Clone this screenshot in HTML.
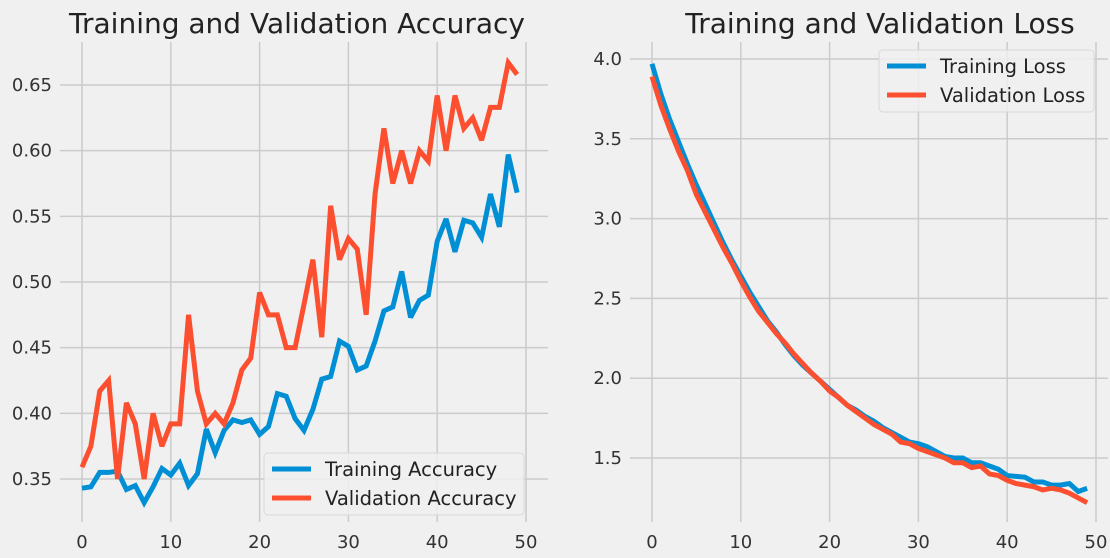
<!DOCTYPE html>
<html><head><meta charset="utf-8"><style>
html,body{margin:0;padding:0;background:#f0f0f0;}
svg{display:block;font-family:"DejaVu Sans","Liberation Sans",sans-serif;}
</style></head><body>
<svg id="c" width="1110" height="558" viewBox="0 0 1110 558" xmlns="http://www.w3.org/2000/svg">
<rect width="1110" height="558" fill="#f0f0f0"/>
</svg>
<script>
const epochs = Array.from({length:50},(_,i)=>i);
const trainAcc = [0.343,0.344,0.355,0.355,0.356,0.342,0.345,0.332,0.344,0.358,0.353,0.362,0.345,0.354,0.388,0.370,0.387,0.395,0.393,0.395,0.384,0.390,0.415,0.413,0.396,0.387,0.403,0.426,0.428,0.455,0.451,0.433,0.436,0.455,0.478,0.481,0.508,0.473,0.486,0.490,0.531,0.548,0.523,0.547,0.545,0.534,0.567,0.542,0.597,0.568];
const valAcc = [0.359,0.375,0.417,0.425,0.350,0.408,0.392,0.350,0.400,0.375,0.392,0.392,0.475,0.417,0.392,0.400,0.392,0.408,0.433,0.442,0.492,0.475,0.475,0.450,0.450,0.483,0.517,0.458,0.558,0.517,0.533,0.525,0.475,0.567,0.617,0.575,0.600,0.575,0.600,0.592,0.642,0.600,0.642,0.617,0.625,0.608,0.633,0.633,0.667,0.658];
const trainLoss = [3.97,3.78,3.62,3.48,3.34,3.21,3.09,2.97,2.85,2.74,2.64,2.54,2.45,2.36,2.29,2.21,2.14,2.08,2.03,1.98,1.93,1.88,1.83,1.80,1.76,1.73,1.69,1.66,1.63,1.60,1.59,1.57,1.54,1.51,1.50,1.50,1.47,1.47,1.45,1.43,1.39,1.385,1.38,1.35,1.35,1.33,1.33,1.34,1.29,1.31];
const valLoss = [3.89,3.71,3.56,3.42,3.30,3.15,3.04,2.93,2.82,2.72,2.61,2.51,2.42,2.35,2.28,2.22,2.15,2.09,2.03,1.98,1.92,1.88,1.83,1.79,1.75,1.71,1.68,1.65,1.60,1.59,1.56,1.54,1.52,1.50,1.47,1.47,1.44,1.45,1.40,1.39,1.36,1.34,1.33,1.32,1.30,1.31,1.30,1.28,1.25,1.22];
const xTicks = [0,10,20,30,40,50];
const accTicks = [0.35,0.40,0.45,0.50,0.55,0.60,0.65];
const lossTicks = [1.5,2.0,2.5,3.0,3.5,4.0];

const NS="http://www.w3.org/2000/svg";
const svg=document.getElementById('c');
function mk(tag,attrs,parent){const e=document.createElementNS(NS,tag);for(const k in attrs)e.setAttribute(k,attrs[k]);(parent||svg).appendChild(e);return e;}

function panel(cfg){
  const g=mk('g',{});
  
  
  const X=v=>cfg.x0+(v-0)*(cfg.x1-cfg.x0)/50;
  const Y=v=>cfg.yA+(v-cfg.vA)*(cfg.yB-cfg.yA)/(cfg.vB-cfg.vA);
  xTicks.forEach(t=>{
    const l=mk('line',{x1:X(t),x2:X(t),y1:cfg.top,y2:cfg.bottom,stroke:'#cbcbcb','stroke-width':1.5},g);
    
    
    const tx=mk('text',{x:X(t),y:cfg.bottom+26,'text-anchor':'middle','font-size':18,fill:'#333'},g);
    
    
    tx.textContent=t;
  });
  cfg.yTicks.forEach(t=>{
    const l=mk('line',{x1:cfg.left,x2:cfg.right,y1:Y(t),y2:Y(t),stroke:'#cbcbcb','stroke-width':1.5},g);
    
    
    const tx=mk('text',{x:cfg.left-8,y:Y(t)+6,'text-anchor':'end','font-size':18,fill:'#333'},g);
    
    
    tx.textContent=cfg.fmt(t);
  });
  cfg.series.forEach(s=>{
    const p=mk('polyline',{points:s.data.map((v,i)=>X(epochs[i])+','+Y(v)).join(' '),fill:'none',stroke:s.color,'stroke-width':5,'stroke-linejoin':'miter','stroke-miterlimit':3},g);
    
    
  });
  const ti=mk('text',{x:cfg.titleX,y:33,'text-anchor':'middle','font-size':28,fill:'#222'},g);
  
  
  ti.textContent=cfg.title;
  const lg=mk('g',{},g);
  
  
  const L=cfg.legend;
  mk('rect',{x:L.x,y:L.y,width:L.w,height:62,rx:4,fill:'#f0f0f0','fill-opacity':0.85,stroke:'#d8d8d8'},lg);
  cfg.series.forEach((s,i)=>{
    const yy=L.y+16+i*29;
    const ln=mk('line',{x1:L.x+8,x2:L.x+47,y1:yy,y2:yy,stroke:s.color,'stroke-width':5},lg);
    
    
    const tx=mk('text',{x:L.x+61,y:yy+7,'font-size':19.5,fill:'#222'},lg);
    
    
    tx.textContent=s.label;
  });
}
panel({name:'accuracy-chart',title:'Training and Validation Accuracy',titleX:297,x0:82,x1:526,left:60,right:548,top:42,bottom:522,
  vA:0.35,yA:479,vB:0.65,yB:85,yTicks:accTicks,fmt:t=>t.toFixed(2),
  legend:{x:264,y:453,w:260},
  series:[{id:'training-accuracy-line',label:'Training Accuracy',color:'#008fd5',data:trainAcc},
          {id:'validation-accuracy-line',label:'Validation Accuracy',color:'#fc4f30',data:valAcc}]});
panel({name:'loss-chart',title:'Training and Validation Loss',titleX:880,x0:652,x1:1096,left:630,right:1108,top:42,bottom:522,
  vA:1.5,yA:458,vB:4.0,yB:59,yTicks:lossTicks,fmt:t=>t.toFixed(1),
  legend:{x:879,y:50,w:215},
  series:[{id:'training-loss-line',label:'Training Loss',color:'#008fd5',data:trainLoss},
          {id:'validation-loss-line',label:'Validation Loss',color:'#fc4f30',data:valLoss}]});
</script>
</body></html>
